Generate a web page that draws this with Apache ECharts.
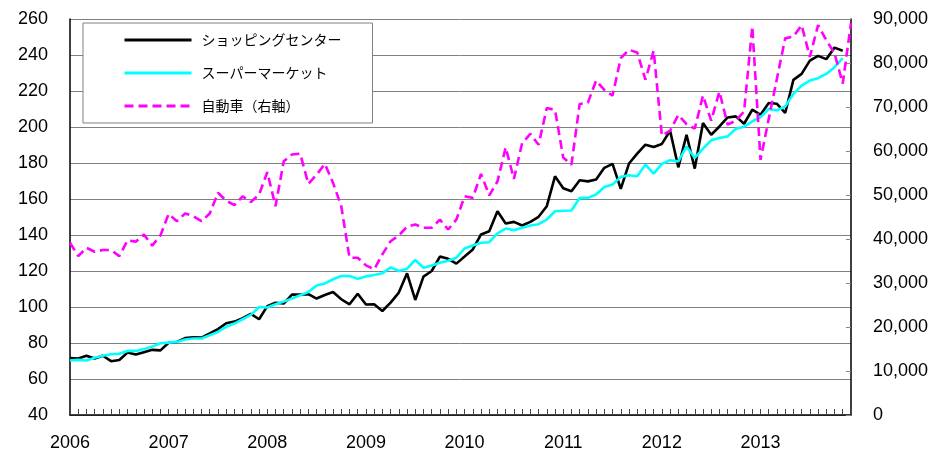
<!DOCTYPE html>
<html>
<head>
<meta charset="utf-8">
<script src="https://cdn.jsdelivr.net/npm/echarts@6/dist/echarts.min.js"></script>
<style>
  html, body { margin: 0; padding: 0; background: #fff; }
  #chart { width: 931px; height: 452px; }
</style>
</head>
<body>
<div id="chart"></div>
<script>
// Months 2006-01 .. 2013-12
const years = ['2006','2007','2008','2009','2010','2011','2012','2013'];
const months = [];
years.forEach(y => { for (let m = 1; m <= 12; m++) months.push(y + '-' + (m < 10 ? '0' + m : m)); });

const seriesNames = ['ショッピングセンター', 'スーパーマーケット', '自動車（右軸）'];

// ショッピングセンター (left axis)
const shoppingCenter = [
  71.6, 71.4, 72.9, 71.4, 72.9, 69.9, 70.6, 74.7, 73.6, 74.9, 76.2, 75.9,
  80.1, 80.6, 82.7, 83.2, 83.0, 85.3, 87.7, 91.0, 91.9, 93.8, 96.2, 93.2,
  100.5, 102.4, 101.9, 106.9, 106.9, 107.1, 104.7, 106.7, 108.3, 104.3, 101.5, 107.4,
  101.4, 101.5, 97.8, 102.4, 108.0, 118.7, 103.9, 116.9, 120.0, 128.0, 126.8, 124.1,
  128.0, 132.0, 140.3, 142.1, 153.2, 146.4, 147.3, 145.3, 147.3, 150.1, 156.0, 172.6,
  166.0, 164.3, 170.4, 169.8, 170.8, 177.3, 179.5, 165.6, 179.7, 185.2, 190.2, 188.9,
  190.6, 197.9, 177.6, 195.7, 176.9, 202.2, 195.7, 200.3, 205.3, 205.9, 201.8, 209.6,
  206.8, 213.3, 212.9, 207.8, 226.2, 229.5, 236.9, 239.5, 237.7, 244.1, 242.4, null
];

// スーパーマーケット (left axis)
const supermarket = [
  70.3, 70.6, 70.3, 71.8, 72.9, 73.8, 74.0, 75.6, 75.6, 76.6, 78.0, 79.9,
  80.2, 80.6, 81.9, 82.5, 82.5, 84.3, 86.2, 89.0, 90.8, 93.2, 95.6, 100.0,
  99.7, 101.5, 103.0, 104.7, 106.5, 108.3, 112.0, 113.1, 115.4, 117.2, 117.2, 115.7,
  117.0, 117.8, 118.7, 122.0, 120.0, 121.3, 126.1, 121.8, 123.1, 124.6, 125.7, 127.4,
  132.5, 134.2, 135.7, 136.0, 140.9, 143.6, 142.7, 144.0, 145.3, 146.0, 148.6, 153.2,
  153.5, 153.6, 160.6, 160.6, 162.5, 166.7, 168.0, 172.3, 173.2, 172.6, 179.1, 174.1,
  179.5, 181.5, 180.9, 189.2, 182.8, 188.0, 192.6, 193.9, 194.8, 199.0, 200.2, 203.1,
  205.5, 210.0, 209.2, 211.4, 218.4, 223.0, 225.8, 227.1, 229.5, 233.2, 238.2, null
];

// 自動車 (right axis)
const automobile = [
  39150, 36100, 38000, 37100, 37500, 37500, 36100, 39700, 39400, 41000, 38500, 40800,
  45700, 44050, 45800, 45200, 44050, 45800, 50500, 48700, 47700, 49700, 48400, 50100,
  55200, 47450, 57650, 59200, 59400, 52500, 54600, 57100, 52750, 47450, 35750, 35750,
  34000, 33100, 36500, 39500, 40800, 42800, 43300, 42550, 42550, 44400, 42150, 44400,
  49700, 49350, 54800, 49900, 53100, 60800, 53650, 61800, 63900, 61400, 69750, 69350,
  58500, 56900, 70700, 71000, 76000, 73900, 72600, 81100, 83000, 82400, 76200, 82800,
  63500, 64600, 68200, 66100, 65100, 72600, 66900, 73500, 66000, 66900, 69000, 88300,
  58000, 67300, 76500, 85600, 86000, 88600, 81400, 88600, 85200, 82200, 75300, 89000
];

const chart = echarts.init(document.getElementById('chart'), null, { renderer: 'canvas' });
const numFont = 'Liberation Sans, Arial, sans-serif';
const jpFont = '"Noto Sans CJK JP", sans-serif';

chart.setOption({
  animation: false,
  backgroundColor: '#ffffff',
  grid: { left: 70, right: 78, top: 19, bottom: 36, containLabel: false },
  legend: {
    orient: 'vertical',
    left: 83,
    top: 23,
    padding: [10, 31, 10, 40],
    itemWidth: 67,
    itemHeight: 14,
    itemGap: 19,
    backgroundColor: '#ffffff',
    borderColor: '#808080',
    borderWidth: 1,
    itemStyle: { opacity: 0, borderWidth: 0 },
    lineStyle: { width: 3 },
    textStyle: { fontSize: 14, fontFamily: jpFont, color: '#000', padding: [0, 0, 0, 5] },
    data: seriesNames
  },
  xAxis: {
    type: 'category',
    boundaryGap: false,
    data: months,
    axisLine: { show: true, lineStyle: { color: '#000', width: 1.5 } },
    axisTick: { show: true, inside: true, length: 6, interval: 0, lineStyle: { color: '#444' } },
    axisLabel: {
      interval: (idx) => idx % 12 === 0,
      formatter: (v) => v.slice(0, 4),
      fontSize: 18, fontFamily: numFont, color: '#000', margin: 19
    },
    splitLine: { show: false }
  },
  yAxis: [
    {
      type: 'value', min: 40, max: 260, interval: 20, position: 'left',
      axisLine: { show: true, lineStyle: { color: '#000', width: 1.5 } },
      axisTick: { show: false },
      axisLabel: { fontSize: 18, fontFamily: numFont, color: '#000', margin: 22 },
      splitLine: { show: true, lineStyle: { color: '#808080', width: 1 } }
    },
    {
      type: 'value', min: 0, max: 90000, interval: 10000, position: 'right',
      axisLine: { show: true, lineStyle: { color: '#000', width: 1.5 } },
      axisTick: { show: true, inside: true, length: 5, lineStyle: { color: '#888' } },
      axisLabel: {
        fontSize: 18, fontFamily: numFont, color: '#000', margin: 22,
        formatter: (v) => String(v).replace(/\B(?=(\d{3})+(?!\d))/g, ',')
      },
      splitLine: { show: false }
    }
  ],
  series: [
    {
      name: seriesNames[0], type: 'line', yAxisIndex: 0, data: shoppingCenter,
      symbol: 'none', showSymbol: false,
      lineStyle: { color: '#000000', width: 2.6 }, itemStyle: { color: '#000000' }
    },
    {
      name: seriesNames[1], type: 'line', yAxisIndex: 0, data: supermarket,
      symbol: 'none', showSymbol: false,
      lineStyle: { color: '#00FFFF', width: 2.6 }, itemStyle: { color: '#00FFFF' }
    },
    {
      name: seriesNames[2], type: 'line', yAxisIndex: 1, data: automobile,
      symbol: 'none', showSymbol: false,
      lineStyle: { color: '#FF00FF', width: 2.6, type: [9, 5] }, itemStyle: { color: '#FF00FF' }
    }
  ]
});
</script>
</body>
</html>
